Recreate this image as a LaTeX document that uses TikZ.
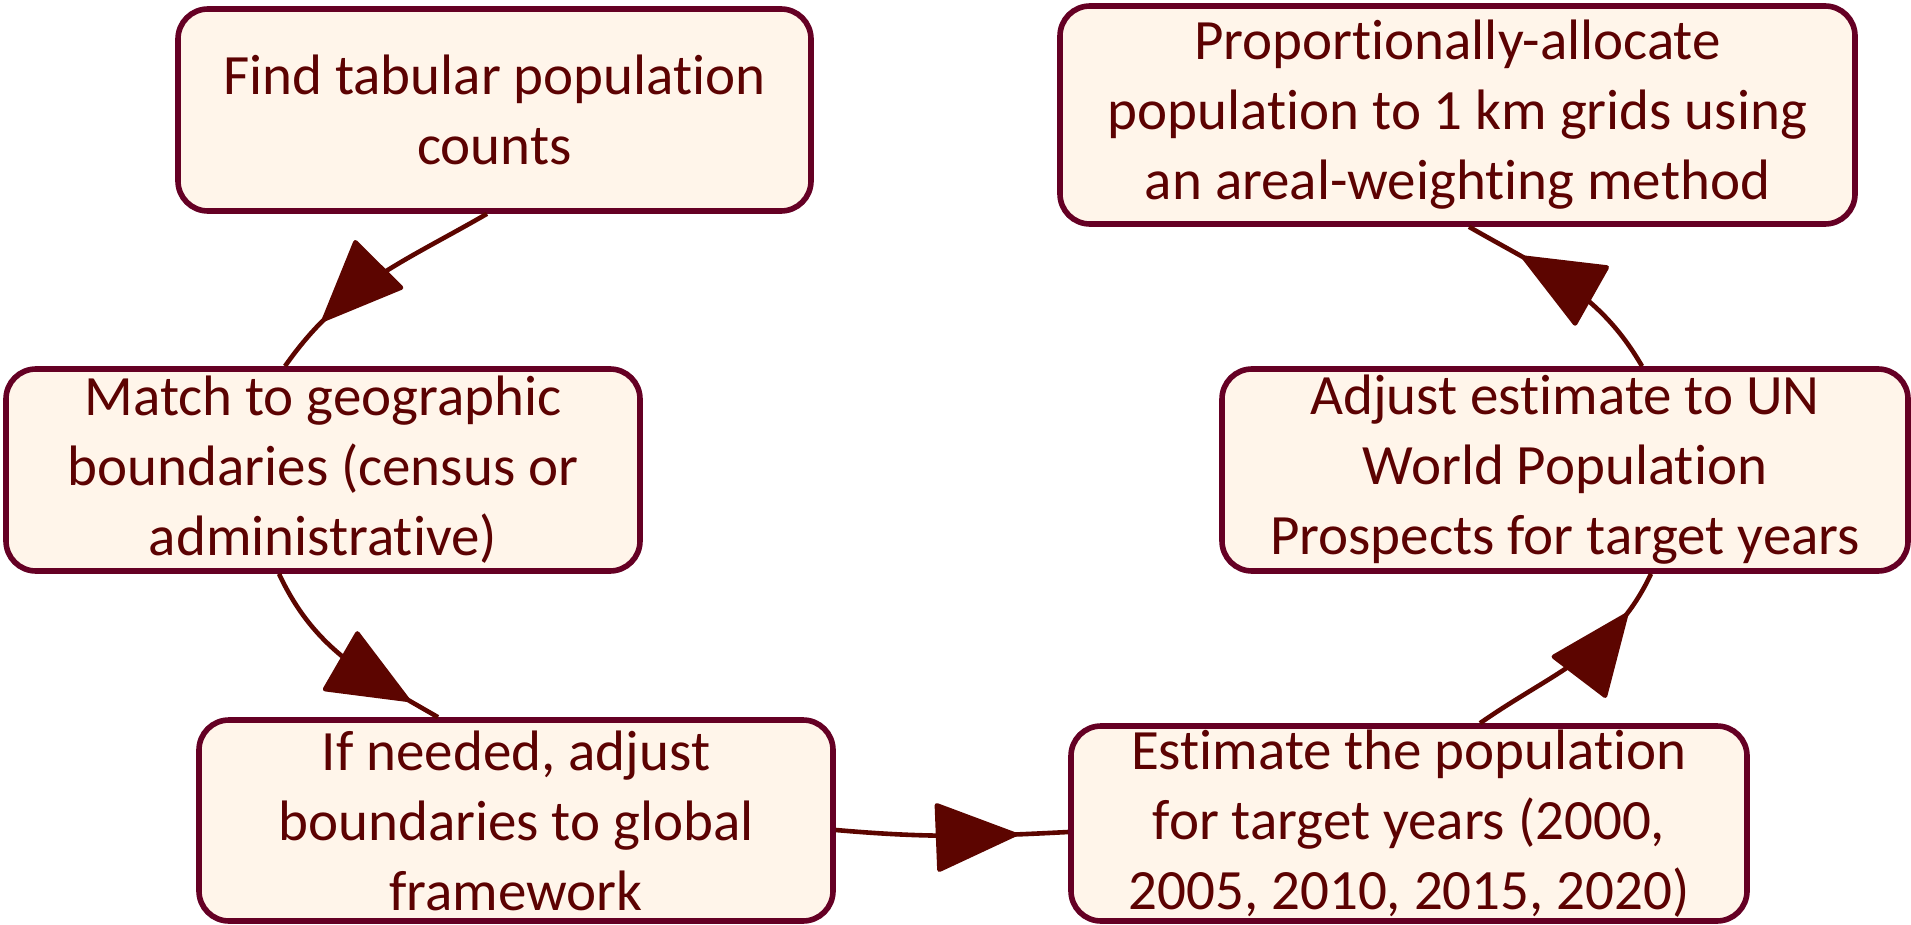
\documentclass[tikz,border=0pt]{standalone}
\usepackage{fontspec}
\setmainfont{Carlito}[RawFeature={-liga;-clig;-calt;-dlig;-rlig}]
\usetikzlibrary{arrows.meta,decorations.markings,calc}
\definecolor{boxfill}{HTML}{FFF5EA}
\definecolor{boxline}{HTML}{650024}
\definecolor{txt}{HTML}{5C0202}
\definecolor{arr}{HTML}{5C0500}
\tikzset{
  stepbox/.style={draw=boxline, fill=boxfill, line width=2.8pt, rounded corners=15pt,
    rectangle, align=center, text=txt, inner sep=0pt,
    font=\fontsize{28.5}{35}\selectfont},
  flow/.style={draw=arr, line width=2.3pt, postaction={decorate},
    decoration={markings, mark=at position #1 with {\arrow[arr]{Triangle[length=42.5pt,width=35pt,round]}}}}
}
\begin{document}
\begin{tikzpicture}[x=0.5pt,y=0.5pt]
\useasboundingbox (0,0) rectangle (1911,-925);
\node[stepbox, minimum width=316.5pt, minimum height=101pt] (find) at (494.5,-110) {Find tabular population\\counts};
\node[stepbox, minimum width=397.5pt, minimum height=109pt] (prop) at (1457.5,-115) {Proportionally-allocate\\population to 1 km grids using\\an areal-weighting method};
\node[stepbox, minimum width=317pt, minimum height=101pt] (match) at (323,-470) {Match to geographic\\boundaries (census or\\administrative)};
\node[stepbox, minimum width=343pt, minimum height=101pt] (adj) at (1565,-470) {Adjust estimate to UN\\World Population\\Prospects for target years};
\node[stepbox, minimum width=317pt, minimum height=100.5pt] (ifn) at (516,-820.5) {If needed, adjust\\boundaries to global\\framework};
\node[stepbox, minimum width=338pt, minimum height=97.5pt] (est) at (1409,-823.5) {Estimate the population\\for target years (2000,\\2005, 2010, 2015, 2020)};

\draw[flow=0.77] ($(find.south)+(-7.5,0)$) to[out=210,in=55] ($(match.north)+(-38,0)$);
\draw[flow=0.85] ($(match.south)+(-44,0)$) to[out=-65,in=150] ($(ifn.north)+(-78,0)$);
\draw[flow=0.78] ($(ifn.east)+(0,-9.5)$) to[out=-5,in=183] ($(est.west)+(0,-8.5)$);
\draw[flow=0.8] ($(est.north)+(71,0)$) to[out=35,in=245] ($(adj.south)+(86,0)$);
\draw[flow=0.73] ($(adj.north)+(77,0)$) to[out=120,in=-30] ($(prop.south)+(11.5,0)$);
\end{tikzpicture}
\end{document}
